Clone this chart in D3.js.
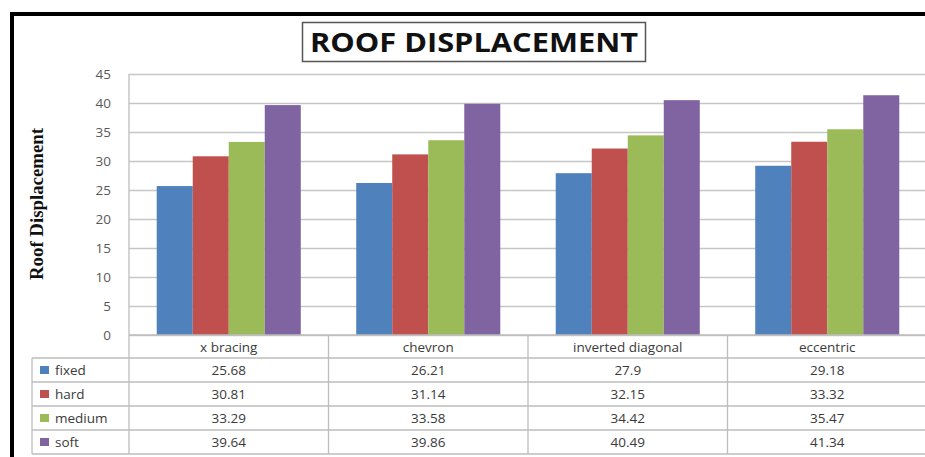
<!DOCTYPE html>
<html><head><meta charset="utf-8">
<script src="https://cdn.jsdelivr.net/npm/d3@7"></script>
<style>html,body{margin:0;padding:0;background:#fff;}svg{display:block;}</style>
</head><body>
<svg id="chart" width="925" height="457"></svg>
<script>
const categories = ["x bracing", "chevron", "inverted diagonal", "eccentric"];
const seriesNames = ["fixed", "hard", "medium", "soft"];
const fixedValues = [25.68, 26.21, 27.9, 29.18];
const hardValues = [30.81, 31.14, 32.15, 33.32];
const mediumValues = [33.29, 33.58, 34.42, 35.47];
const softValues = [39.64, 39.86, 40.49, 41.34];
const seriesColors = ["#4F81BD", "#C0504D", "#9BBB59", "#8064A2"];
const yTicks = [0, 5, 10, 15, 20, 25, 30, 35, 40, 45];
const titleText = "ROOF DISPLACEMENT";
const yTitle = "Roof Displacement";

const series = seriesNames.map((n, i) => ({name: n, color: seriesColors[i],
  values: [fixedValues, hardValues, mediumValues, softValues][i]}));

const svg = d3.select("#chart");
const plotLeft = 129, plotRight = 927, plotTop = 74, plotBottom = 335;
const rowH = 24, tableLeft = 32;
const headerBottom = 358;
const tableBottom = headerBottom + rowH * series.length;

const y = d3.scaleLinear().domain([0, 45]).range([plotBottom, plotTop]);
const x0 = d3.scaleBand().domain(categories).range([plotLeft, plotRight]).paddingInner(0).paddingOuter(0);
const x1 = d3.scaleBand().domain(seriesNames).range([0, x0.bandwidth()]).paddingInner(0).paddingOuter(0.77);

// Outer frame
svg.append("path").attr("d", `M12,${457 + 5} L12,14 L930,14`)
  .attr("fill", "none").attr("stroke", "#000").attr("stroke-width", 4);

// Title box
const tg = svg.append("g");
tg.append("rect").attr("x", 302.5).attr("y", 22.5).attr("width", 343).attr("height", 39)
  .attr("fill", "#fff").attr("stroke", "#555").attr("stroke-width", 1.5);
tg.append("text").attr("x", 474).attr("y", 52).attr("text-anchor", "middle")
  .attr("font-family", "'Open Sans', sans-serif").attr("font-weight", "bold").attr("font-size", 27)
  .attr("fill", "#111").attr("textLength", 328).attr("lengthAdjust", "spacingAndGlyphs").text(titleText);

// Gridlines
const yAxis = d3.axisLeft(y).tickValues(yTicks).tickSize(-(plotRight - plotLeft)).tickPadding(18).tickFormat(d3.format("d"));
const ga = svg.append("g").attr("transform", `translate(${plotLeft},0)`).call(yAxis);
ga.select(".domain").remove();
ga.selectAll(".tick line").attr("stroke", "#c6c6c6").attr("stroke-width", 1.3);
ga.selectAll(".tick text").attr("font-family", "'Open Sans', sans-serif").attr("font-size", 13.5)
  .attr("fill", "#595959");

// Y title
svg.append("text").attr("transform", "translate(43,204) rotate(-90)").attr("text-anchor", "middle")
  .attr("font-family", "'Liberation Serif', serif").attr("font-weight", "bold").attr("font-size", 18)
  .attr("fill", "#111").attr("textLength", 152).attr("lengthAdjust", "spacingAndGlyphs").text(yTitle);

// Bars
const groups = svg.append("g").selectAll("g").data(categories).join("g")
  .attr("transform", d => `translate(${x0(d)},0)`);
groups.selectAll("rect").data((c, ci) => series.map(s => ({s, v: s.values[ci]}))).join("rect")
  .attr("x", d => x1(d.s.name)).attr("width", x1.bandwidth())
  .attr("y", d => y(d.v)).attr("height", d => y(0) - y(d.v))
  .attr("fill", d => d.s.color);

// Table lines
const lineColor = "#bdbdbd";
const tl = svg.append("g").attr("stroke", lineColor).attr("stroke-width", 1.3);
tl.append("line").attr("x1", plotLeft).attr("x2", plotRight).attr("y1", plotBottom).attr("y2", plotBottom);
for (let r = 0; r <= series.length; r++) {
  const yy = headerBottom + r * rowH;
  tl.append("line").attr("x1", tableLeft).attr("x2", plotRight).attr("y1", yy).attr("y2", yy);
}
tl.append("line").attr("x1", plotLeft).attr("x2", plotLeft).attr("y1", plotTop).attr("y2", tableBottom);
tl.append("line").attr("x1", tableLeft).attr("x2", tableLeft).attr("y1", headerBottom).attr("y2", tableBottom);
categories.slice(1).forEach(c => {
  tl.append("line").attr("x1", x0(c)).attr("x2", x0(c)).attr("y1", plotBottom).attr("y2", tableBottom);
});

const txt = svg.append("g").attr("font-family", "'Open Sans', sans-serif").attr("font-size", 13.5).attr("fill", "#3a3a3a");
// Header labels
txt.selectAll("text.cat").data(categories).join("text").attr("class", "cat")
  .attr("x", d => x0(d) + x0.bandwidth() / 2).attr("y", plotBottom + 16.5)
  .attr("text-anchor", "middle").text(d => d);
// Legend keys and values
series.forEach((s, i) => {
  const yy = headerBottom + i * rowH;
  svg.append("rect").attr("x", 40).attr("y", yy + 8).attr("width", 9).attr("height", 8).attr("fill", s.color);
  txt.append("text").attr("x", 55).attr("y", yy + 16.5).text(s.name);
  categories.forEach((c, ci) => {
    txt.append("text").attr("x", x0(c) + x0.bandwidth() / 2).attr("y", yy + 16.5)
      .attr("text-anchor", "middle").text(String(s.values[ci]));
  });
});
</script>
</body></html>
